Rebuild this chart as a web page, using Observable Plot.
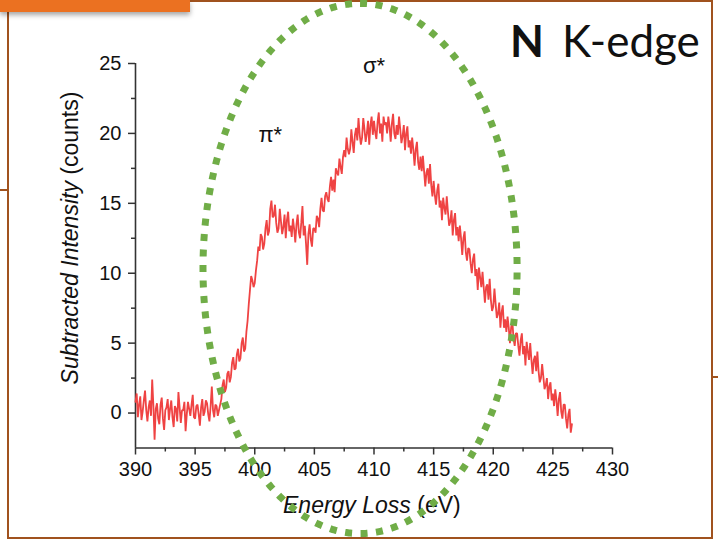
<!DOCTYPE html>
<html>
<head>
<meta charset="utf-8">
<script src="https://cdn.jsdelivr.net/npm/d3@7"></script>
<script src="https://cdn.jsdelivr.net/npm/@observablehq/plot@0.6"></script>
<style>
  body { margin: 0; background: #fff; }
  #wrap { position: relative; width: 718px; height: 542px; background: #fff; overflow: hidden; }
  .deco { position: absolute; }
  #chart, #titles { position: absolute; left: 0; top: 0; }
</style>
</head>
<body>
<div id="wrap">
  <div class="deco" style="left:0;top:0;width:190px;height:12px;background:#eb7121;box-shadow:0 3px 5px rgba(0,0,0,0.35);z-index:3"></div>
  <div class="deco" style="left:190px;top:0;width:522px;height:2px;background:#a0521e"></div>
  <div class="deco" style="left:7px;top:12px;width:2px;height:527px;background:#a0521e"></div>
  <div class="deco" style="left:7px;top:537px;width:706px;height:2px;background:#a0521e"></div>
  <div class="deco" style="left:711px;top:0;width:2px;height:539px;background:#a0521e"></div>
  <div class="deco" style="left:0;top:189px;width:8px;height:2px;background:#a0521e"></div>
  <div class="deco" style="left:712px;top:376px;width:6px;height:2px;background:#a0521e"></div>
  <svg id="titles" width="718" height="542">
    <text x="283" y="513" font-family="Liberation Sans, Arial, sans-serif" font-size="23" fill="#111"><tspan font-style="italic">Energy Loss</tspan> (eV)</text>
    <text transform="translate(78,238) rotate(-90)" text-anchor="middle" font-family="Liberation Sans, Arial, sans-serif" font-size="23" fill="#111"><tspan font-style="italic">Subtracted Intensity</tspan> (counts)</text>
    <text x="510" y="57" font-family="Lato, sans-serif" font-size="44" fill="#111"><tspan font-weight="bold">N</tspan><tspan x="562">K-edge</tspan></text>
  </svg>
  <div id="chart"></div>
</div>
<script>
// Energy loss (eV)
const energy = [
  390.0,390.1,390.2,390.3,390.4,390.5,390.6,390.7,390.8,390.9,
  391.0,391.1,391.2,391.3,391.4,391.5,391.6,391.7,391.8,391.9,
  392.0,392.1,392.2,392.3,392.4,392.5,392.6,392.7,392.8,392.9,
  393.0,393.1,393.2,393.3,393.4,393.5,393.6,393.7,393.8,393.9,
  394.0,394.1,394.2,394.3,394.4,394.5,394.6,394.7,394.8,394.9,
  395.0,395.1,395.2,395.3,395.4,395.5,395.6,395.7,395.8,395.9,
  396.0,396.1,396.2,396.3,396.4,396.5,396.6,396.7,396.8,396.9,
  397.0,397.1,397.2,397.3,397.4,397.5,397.6,397.7,397.8,397.9,
  398.0,398.1,398.2,398.3,398.4,398.5,398.6,398.7,398.8,398.9,
  399.0,399.1,399.2,399.3,399.4,399.5,399.6,399.7,399.8,399.9,
  400.0,400.1,400.2,400.3,400.4,400.5,400.6,400.7,400.8,400.9,
  401.0,401.1,401.2,401.3,401.4,401.5,401.6,401.7,401.8,401.9,
  402.0,402.1,402.2,402.3,402.4,402.5,402.6,402.7,402.8,402.9,
  403.0,403.1,403.2,403.3,403.4,403.5,403.6,403.7,403.8,403.9,
  404.0,404.1,404.2,404.3,404.4,404.5,404.6,404.7,404.8,404.9,
  405.0,405.1,405.2,405.3,405.4,405.5,405.6,405.7,405.8,405.9,
  406.0,406.1,406.2,406.3,406.4,406.5,406.6,406.7,406.8,406.9,
  407.0,407.1,407.2,407.3,407.4,407.5,407.6,407.7,407.8,407.9,
  408.0,408.1,408.2,408.3,408.4,408.5,408.6,408.7,408.8,408.9,
  409.0,409.1,409.2,409.3,409.4,409.5,409.6,409.7,409.8,409.9,
  410.0,410.1,410.2,410.3,410.4,410.5,410.6,410.7,410.8,410.9,
  411.0,411.1,411.2,411.3,411.4,411.5,411.6,411.7,411.8,411.9,
  412.0,412.1,412.2,412.3,412.4,412.5,412.6,412.7,412.8,412.9,
  413.0,413.1,413.2,413.3,413.4,413.5,413.6,413.7,413.8,413.9,
  414.0,414.1,414.2,414.3,414.4,414.5,414.6,414.7,414.8,414.9,
  415.0,415.1,415.2,415.3,415.4,415.5,415.6,415.7,415.8,415.9,
  416.0,416.1,416.2,416.3,416.4,416.5,416.6,416.7,416.8,416.9,
  417.0,417.1,417.2,417.3,417.4,417.5,417.6,417.7,417.8,417.9,
  418.0,418.1,418.2,418.3,418.4,418.5,418.6,418.7,418.8,418.9,
  419.0,419.1,419.2,419.3,419.4,419.5,419.6,419.7,419.8,419.9,
  420.0,420.1,420.2,420.3,420.4,420.5,420.6,420.7,420.8,420.9,
  421.0,421.1,421.2,421.3,421.4,421.5,421.6,421.7,421.8,421.9,
  422.0,422.1,422.2,422.3,422.4,422.5,422.6,422.7,422.8,422.9,
  423.0,423.1,423.2,423.3,423.4,423.5,423.6,423.7,423.8,423.9,
  424.0,424.1,424.2,424.3,424.4,424.5,424.6,424.7,424.8,424.9,
  425.0,425.1,425.2,425.3,425.4,425.5,425.6,425.7,425.8,425.9,
  426.0,426.1,426.2,426.3,426.4,426.5,426.6
];
// Subtracted intensity (counts)
const intensity = [
  0.8,1.4,-0.3,0.6,1.2,-0.5,0.1,0.9,1.6,0.2,
  -0.6,0.4,0.9,-0.2,2.4,0.5,-1.9,0.3,0.7,-0.4,
  -0.8,0.6,1.1,-0.4,-1.2,0.2,0.4,1.0,-0.5,0.3,
  0.9,-0.3,-1.0,0.5,0.3,-0.6,1.5,0.4,-0.7,0.2,
  0.2,0.8,-1.3,-0.1,0.8,0.3,-0.2,0.6,1.3,-0.3,
  -0.4,0.5,0.6,-0.1,-0.9,0.4,1.0,-0.2,0.1,0.9,
  0.7,-0.1,-0.6,0.5,1.9,0.2,-0.3,0.6,0.5,-0.2,
  0.2,0.6,1.0,2.0,2.4,1.5,1.8,2.8,3.0,2.2,
  2.6,3.6,4.0,3.1,3.2,4.2,4.6,3.7,3.9,5.0,
  5.4,4.4,4.6,5.8,6.6,7.8,8.8,9.8,9.5,9.0,
  9.3,10.2,10.9,11.9,11.6,12.8,12.6,11.7,12.1,13.2,
  13.8,12.7,13.0,14.6,15.2,14.0,14.1,14.9,13.6,12.9,
  13.2,14.6,13.7,12.8,13.3,14.2,12.5,13.8,14.4,13.0,
  13.4,12.6,13.9,13.2,12.2,13.5,14.2,12.9,12.5,13.6,
  14.8,12.7,13.4,12.1,10.6,12.8,13.5,12.4,11.9,13.2,
  13.2,12.9,14.1,13.9,13.3,14.6,15.4,14.5,14.4,15.5,
  15.8,15.3,15.1,16.2,16.9,15.9,16.7,15.8,17.5,17.2,
  17.0,18.2,17.6,17.1,18.3,18.8,18.3,19.7,18.9,18.5,
  18.9,20.3,19.4,18.6,19.9,20.4,19.5,21.1,19.9,19.2,
  19.7,21.1,20.3,19.4,20.0,20.9,19.2,20.6,21.2,19.9,
  20.9,20.1,19.6,20.8,21.5,20.0,20.7,19.4,21.2,20.6,
  20.8,20.0,21.2,20.5,19.4,20.7,21.4,20.0,19.6,20.6,
  19.9,21.2,20.3,19.3,19.8,20.6,18.8,20.0,20.5,19.0,
  19.5,18.55,19.7,18.85,17.7,18.85,19.4,17.95,17.4,18.35,
  17.3,18.4,17.3,16.2,17.2,17.5,16.4,17.8,16.3,15.5,
  16.6,15.6,14.9,15.9,16.4,14.7,15.2,13.8,15.4,14.7,
  14.2,15.5,14.4,13.4,13.7,14.5,12.7,13.8,14.3,12.7,
  13.3,12.3,13.4,12.5,11.3,12.5,13.0,11.5,10.9,11.8,
  11.7,10.7,10.0,11.0,11.4,9.8,10.3,8.8,10.4,9.7,
  9.0,10.1,9.0,7.9,9.0,9.2,8.1,9.6,8.1,7.3,
  7.6,8.9,7.8,6.8,7.1,7.9,6.1,7.2,7.7,6.1,
  6.7,5.8,6.9,6.1,5.0,6.1,6.6,5.3,4.8,5.7,
  5.7,4.8,4.1,5.2,5.7,4.2,4.8,3.4,5.1,4.4,
  3.8,5.0,3.8,2.8,3.8,4.1,3.0,4.4,3.0,2.2,
  2.5,3.5,2.6,1.7,2.0,2.5,1.0,1.9,2.2,0.9,
  1.4,0.5,1.7,0.9,-0.2,1.0,1.5,0.1,-0.4,0.6,
  0.6,-0.4,-1.1,-0.1,0.3,-1.4,-0.8
];
const xTicks = [390, 395, 400, 405, 410, 415, 420, 425, 430];
const xMinorTicks = [392.5, 397.5, 402.5, 407.5, 412.5, 417.5, 422.5, 427.5];
const yTicks = [0, 5, 10, 15, 20, 25];
const yMinorTicks = [2.5, 7.5, 12.5, 17.5, 22.5];
const peakLabels = ["π*", "σ*"];
const peakLabelX = [401.3, 410.0];
const peakLabelY = [19.9, 24.85];
// highlight ellipse (data units): centre and radii
const ellipseCx = 408.83, ellipseCy = 10.34, ellipseRx = 13.17, ellipseRy = 18.96;

const spectrum = energy.map((e, i) => ({e, v: intensity[i]}));
const labels = peakLabels.map((t, i) => ({t, x: peakLabelX[i], y: peakLabelY[i]}));
const ellipse = d3.range(0, 721).map(k => {
  const a = k / 720 * 2 * Math.PI;
  return {x: ellipseCx + ellipseRx * Math.sin(a), y: ellipseCy + ellipseRy * Math.cos(a)};
});

const axisColor = "#333";
const chart = Plot.plot({
  width: 718,
  height: 542,
  marginLeft: 135,
  marginRight: 106,
  marginTop: 63,
  marginBottom: 94.5,
  x: {domain: [390, 430]},
  y: {domain: [-2.5, 25]},
  style: {background: "transparent", fontFamily: "Liberation Sans, Arial, sans-serif", fontSize: "20px", color: "#111"},
  marks: [
    Plot.axisX({ticks: xTicks, tickSize: 7, tickPadding: 7, label: null, stroke: axisColor, strokeWidth: 1.5}),
    Plot.axisX({ticks: xMinorTicks, tickSize: 4, tickFormat: () => "", label: null, stroke: axisColor, strokeWidth: 1.5}),
    Plot.axisY({ticks: yTicks, tickSize: 7, tickPadding: 7, label: null, stroke: axisColor, strokeWidth: 1.5}),
    Plot.axisY({ticks: yMinorTicks, tickSize: 4, tickFormat: () => "", label: null, stroke: axisColor, strokeWidth: 1.5}),
    Plot.ruleY([-2.5], {stroke: axisColor, strokeWidth: 1.6}),
    Plot.ruleX([390], {stroke: axisColor, strokeWidth: 1.6}),
    Plot.line(spectrum, {x: "e", y: "v", stroke: "#ef4343", strokeWidth: 1.8, strokeLinejoin: "miter"}),
    Plot.text(labels, {x: "x", y: "y", text: "t", fontSize: 22, fill: "#111"}),
    Plot.line(ellipse, {x: "x", y: "y", stroke: "#70ad47", strokeWidth: 7, strokeDasharray: "7 8.5", strokeLinecap: "butt"})
  ]
});
document.getElementById("chart").appendChild(chart);
</script>
</body>
</html>
